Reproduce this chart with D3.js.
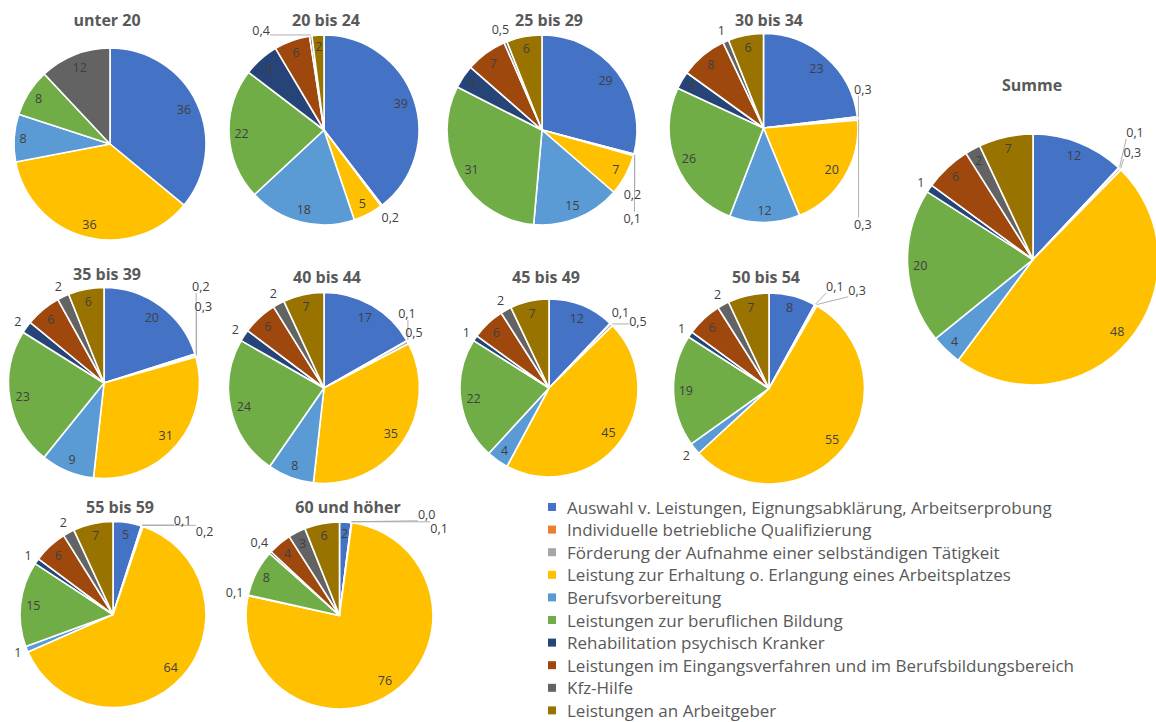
<!DOCTYPE html>
<html><head><meta charset="utf-8">
<script src="https://cdn.jsdelivr.net/npm/d3@7"></script>
<style>body{margin:0;background:#fff}svg{display:block}</style>
</head><body><svg id="c" width="1156" height="722"></svg>
<script>
// ---------- DATA ----------
const categories = [
  "Auswahl v. Leistungen, Eignungsabklärung, Arbeitserprobung",
  "Individuelle betriebliche Qualifizierung",
  "Förderung der Aufnahme einer selbständigen Tätigkeit",
  "Leistung zur Erhaltung o. Erlangung eines Arbeitsplatzes",
  "Berufsvorbereitung",
  "Leistungen zur beruflichen Bildung",
  "Rehabilitation psychisch Kranker",
  "Leistungen im Eingangsverfahren und im Berufsbildungsbereich",
  "Kfz-Hilfe",
  "Leistungen an Arbeitgeber"
];
const ageGroups = ["unter 20","20 bis 24","25 bis 29","30 bis 34","Summe","35 bis 39","40 bis 44","45 bis 49","50 bis 54","55 bis 59","60 und höher"];
const valuesUnter20 = [36, null, null, 36, 8, 8, null, null, 12, null];
const values20bis24 = [39, 0.2, null, 5, 18, 22, 6, 6, 0.4, 2];
const values25bis29 = [29, 0.2, 0.1, 7, 15, 31, 4, 7, 0.5, 6];
const values30bis34 = [23, 0.3, 0.3, 20, 12, 26, 3, 8, 1, 6];
const valuesSumme   = [12, 0.1, 0.3, 48, 4, 20, 1, 6, 2, 7];
const values35bis39 = [20, 0.2, 0.3, 31, 9, 23, 2, 6, 2, 6];
const values40bis44 = [17, 0.1, 0.5, 35, 8, 24, 2, 6, 2, 7];
const values45bis49 = [12, 0.1, 0.5, 45, 4, 22, 1, 6, 2, 7];
const values50bis54 = [8, 0.1, 0.3, 55, 2, 19, 1, 6, 2, 7];
const values55bis59 = [5, 0.1, 0.2, 64, 1, 15, 1, 6, 2, 7];
const values60plus  = [2, 0.0, 0.1, 76, 0.1, 8, 0.4, 4, 3, 6];
const seriesValues = [valuesUnter20, values20bis24, values25bis29, values30bis34, valuesSumme,
  values35bis39, values40bis44, values45bis49, values50bis54, values55bis59, values60plus];

// ---------- STYLE / LAYOUT ----------
const colors = ["#4472C4","#ED7D31","#A5A5A5","#FFC000","#5B9BD5","#70AD47","#264478","#9E480E","#636363","#997300"];
const layout = [
  {cx:110, cy:144, r:96, tx:107, ty:20},
  {cx:324, cy:130, r:95, tx:326, ty:20},
  {cx:542, cy:130, r:95, tx:549, ty:20},
  {cx:763.5, cy:128, r:94.5, tx:769, ty:20},
  {cx:1033, cy:259.5, r:125.5, tx:1032, ty:85},
  {cx:104, cy:383, r:95.5, tx:107, ty:274},
  {cx:324, cy:388, r:95.5, tx:327, ty:277},
  {cx:549, cy:388, r:89, tx:546, ty:277},
  {cx:769, cy:388.5, r:95.5, tx:766, ty:277},
  {cx:113, cy:614.5, r:93, tx:120, ty:507},
  {cx:339.5, cy:615.5, r:93.5, tx:348, ty:507}
];
// nudges of crowded outside labels (Excel moved them), keyed by chart index -> category index
const labelNudge = {
  1: {8: [-48, 6]},
  2: {1: [-15, 36], 2: [-15, 59]},
  3: {1: [-8, -27], 2: [-8, 106]},
  4: {1: [6, -25], 2: [2, -6]},
  5: {1: [-8, -64], 2: [-6, -46]},
  6: {1: [-13, -20], 2: [-7, -3]},
  7: {2: [16, 7]},
  8: {1: [13, -6], 2: [34, -3]},
  9: {1: [37, 7], 2: [58, 17]},
  10: {1: [74, 3], 2: [86, 17]}
};
const FONT = "'Open Sans', 'Noto Sans', sans-serif";
const labelSize = 12.5, labelH = 13;

const svg = d3.select("#c");
const fmt = v => v < 1 ? d3.format(".1f")(v).replace(".", ",") : d3.format("d")(Math.round(v));

const pie = d3.pie().sort(null).value(d => d.v);

seriesValues.forEach((vals, k) => {
  const L = layout[k];
  const g = svg.append("g").attr("transform", `translate(${L.cx},${L.cy})`);
  const data = vals.map((v, i) => ({v, i})).filter(d => d.v !== null);
  const arcs = pie(data);
  const arc = d3.arc().innerRadius(0).outerRadius(L.r);
  g.selectAll("path.slice").data(arcs).join("path")
    .attr("class", "slice")
    .attr("d", arc)
    .attr("fill", d => colors[d.data.i])
    .attr("stroke", "#fff").attr("stroke-width", 1.6).attr("stroke-linejoin", "round");

  // title
  svg.append("text").attr("x", L.tx).attr("y", L.ty)
    .attr("text-anchor", "middle").attr("dominant-baseline", "central")
    .attr("font-family", FONT).attr("font-weight", "bold").attr("font-size", 16)
    .attr("fill", "#595959").text(ageGroups[k]);

  const lg = g.append("g");
  arcs.forEach(a => {
    const t = lg.append("text")
      .attr("text-anchor", "middle").attr("dominant-baseline", "central")
      .attr("font-family", FONT).attr("font-size", labelSize)
      .attr("fill", "#404040").text(fmt(a.data.v));
    const w = t.node().getComputedTextLength();
    const th = (a.startAngle + a.endAngle) / 2;
    const s = Math.sin(th), c = Math.cos(th);
    const ext = w / 2 * Math.abs(s) + labelH / 2 * Math.abs(c);
    const dIn = L.r - 5 - ext;
    const ang = a.endAngle - a.startAngle;
    const perp = w * Math.abs(c) + labelH * Math.abs(s);
    const chord = ang >= Math.PI ? Infinity : 2 * dIn * Math.sin(ang / 2);
    const inside = perp <= chord;
    let d = inside ? dIn : L.r + 4 + ext;
    let x = d * s, y = -d * c;
    const nd = labelNudge[k] && labelNudge[k][a.data.i];
    if (!inside && nd) {
      x += nd[0]; y += nd[1];
      // leader line from slice edge to nearest point of the label box
      const ex = (L.r + 1) * s, ey = -(L.r + 1) * c;
      const bx = Math.max(x - w / 2, Math.min(ex, x + w / 2));
      const by = Math.max(y - labelH / 2, Math.min(ey, y + labelH / 2));
      if (Math.hypot(bx - ex, by - ey) > 6) {
        lg.insert("line", ":first-child")
          .attr("x1", ex).attr("y1", ey).attr("x2", bx).attr("y2", by)
          .attr("stroke", "#A6A6A6").attr("stroke-width", 0.9);
      }
    }
    t.attr("x", x).attr("y", y);
  });
});

// legend
const legY0 = 507, legStep = 22.6;
const leg = svg.append("g");
categories.forEach((name, i) => {
  const y = legY0 + i * legStep;
  leg.append("rect").attr("x", 548).attr("y", y - 4).attr("width", 8).attr("height", 8).attr("fill", colors[i]);
  leg.append("text").attr("x", 567).attr("y", y).attr("dominant-baseline", "central")
    .attr("font-family", FONT).attr("font-size", 17).attr("fill", "#595959").text(name);
});
</script></body></html>
